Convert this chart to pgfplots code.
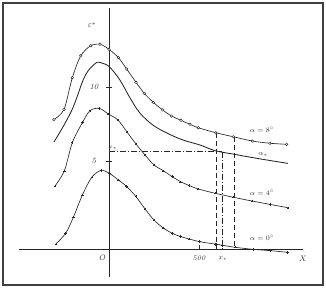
\documentclass[border=0pt]{standalone}
\usepackage{pgfplots}
\pgfplotsset{compat=1.18}
\tikzset{lbl/.style={font=\scriptsize, inner sep=0pt, text=black!80},
         big/.style={font=\footnotesize, inner sep=0pt, text=black!80}}
\begin{document}
\begin{tikzpicture}
\begin{axis}[
  scale only axis, width=320pt, height=282pt,
  xmin=-589, xmax=1189, ymin=-3.38, ymax=15.68,
  ticks=none, clip=false,
  axis line style={line width=1.1pt, black!75},
  every axis plot/.append style={line width=0.65pt, black!85},
]
% coordinate axes
\addplot[line width=0.7pt, no marks] coordinates {(-500,-0.95) (1078,-0.95)};
\addplot[line width=0.7pt, no marks] coordinates {(0,-2.84) (0,15.34)};
\addplot[no marks] coordinates {(-14,10) (14,10)};
\addplot[no marks] coordinates {(-14,5) (14,5)};
\addplot[no marks] coordinates {(500,-0.95) (500,-0.65)};

% alpha = 8 deg
\addplot[smooth, tension=0.5, mark=*, mark size=1.3pt, mark options={solid, fill=white, line width=0.45pt}] coordinates {
(-306,7.80) (-250,8.49) (-204,10.63) (-157,12.11) (-102,12.79) (-50,12.89)
(0,12.55) (52,11.99) (98,11.22) (150,10.32) (196,9.57) (246,8.97) (298,8.45)
(348,8.04) (400,7.75) (450,7.48) (496,7.25) (593,6.91) (691,6.64) (796,6.35)
(894,6.20) (987,6.13)};

% alpha_*
\addplot[smooth, tension=0.6, no marks, line width=0.85pt] coordinates {
(-306,6.28) (-256,7.30) (-206,8.45) (-178,9.32) (-144,10.47) (-117,11.08)
(-94,11.39) (-67,11.67) (-44,11.64) (-22,11.55) (6,11.32) (61,10.47)
(117,9.26) (172,8.24) (244,7.43) (322,6.89) (411,6.42) (506,6.08)
(589,5.70) (689,5.47) (822,5.18) (994,4.84)};

% alpha = 4 deg
\addplot[smooth, tension=0.5, mark=+, mark size=1.2pt, mark options={solid, line width=0.45pt}] coordinates {
(-300,3.31) (-248,4.34) (-204,6.24) (-148,7.59) (-106,8.40) (-54,8.56)
(-4,8.18) (50,7.77) (100,6.96) (150,6.15) (200,5.41) (250,4.73) (302,4.34)
(352,3.94) (398,3.60) (446,3.34) (496,3.11) (589,2.82) (691,2.55) (793,2.30)
(894,2.07) (996,1.84)};

% alpha = 0 deg
\addplot[smooth, tension=0.5, mark=+, mark size=1.2pt, mark options={solid, line width=0.45pt}] coordinates {
(-296,-0.61) (-241,0.11) (-198,1.20) (-148,2.70) (-96,3.90) (-44,4.37)
(3,4.16) (52,3.72) (98,3.28) (150,2.59) (200,1.76) (250,1.01) (302,0.47)
(352,0.11) (398,-0.11) (446,-0.27) (502,-0.45) (598,-0.63) (700,-0.83)
(802,-0.97) (898,-1.06) (991,-1.17)};

% construction lines
\addplot[no marks, dash pattern=on 6pt off 2pt on 1pt off 2pt] coordinates {(0,5.63) (629,5.63)};
\addplot[no marks, dash pattern=on 6pt off 2pt on 1pt off 2pt] coordinates {(629,5.63) (629,-0.95)};
\addplot[no marks, dash pattern=on 5pt off 3pt] coordinates {(594,6.91) (594,-0.95)};
\addplot[no marks, dash pattern=on 5pt off 3pt] coordinates {(694,6.64) (694,-0.95)};
\addplot[only marks, mark=+, mark size=1.6pt, mark options={line width=0.9pt}] coordinates {(594,-0.63) (629,-0.70)};

% labels
\node[big] at (axis cs:-94,14.19) {$\varepsilon^{*}$};
\node[big] at (axis cs:-83,10.0) {\textit{10}};
\node[big] at (axis cs:-83,5.0) {\textit{5}};
\node[big] at (axis cs:-39,-1.55) {\textit{O}};
\node[lbl] at (axis cs:500,-1.55) {\textit{500}};
\node[lbl] at (axis cs:633,-1.62) {$x_{*}$};
\node[big] at (axis cs:1078,-1.62) {$X$};
\node[lbl] at (axis cs:24,5.91) {\tiny$\varepsilon_{*}$};
\node[lbl] at (axis cs:850,7.09) {$\alpha=8^{\circ}$};
\node[lbl] at (axis cs:856,5.41) {$\alpha_{*}$};
\node[lbl] at (axis cs:850,2.84) {$\alpha=4^{\circ}$};
\node[lbl] at (axis cs:850,-0.2) {$\alpha=0^{\circ}$};
\end{axis}
\path (current axis.south west) ++(-3pt,-2pt) coordinate (bbsw);
\path (current axis.north east) ++(3pt,3pt) coordinate (bbne);
\path (bbsw) rectangle (bbne);
\end{tikzpicture}
\end{document}
